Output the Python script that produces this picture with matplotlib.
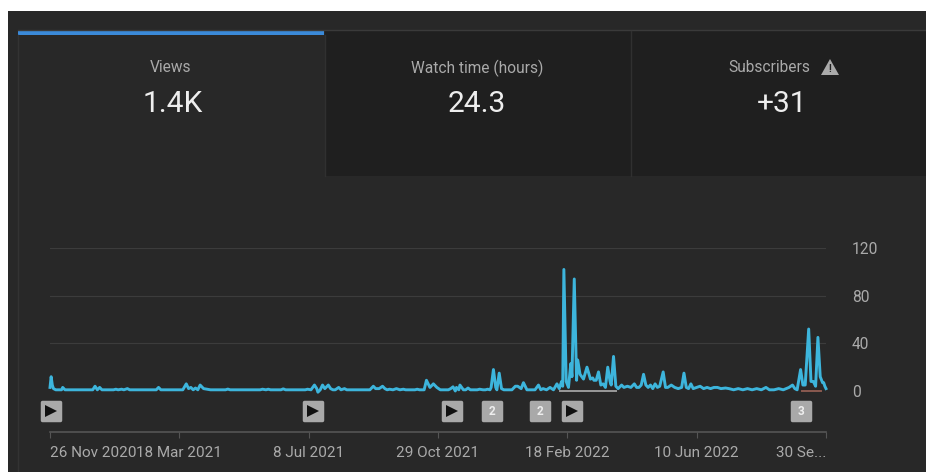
import matplotlib
matplotlib.use("Agg")
import matplotlib.pyplot as plt
from matplotlib.markers import MarkerStyle
from matplotlib.patches import Polygon, Rectangle

plt.rcParams["font.family"] = ["Roboto", "DejaVu Sans"]

# (days since 26 Nov 2020, views)
points = [
    (0, 3), (1, 12), (2, 5), (3, 2), (5, 1), (8, 1), (10, 1), (11, 3), (13, 1), (37, 1), (39, 4), (41, 1),
    (43, 3), (45, 1), (55, 1), (57, 1.5), (59, 1), (62, 1.5), (64, 1), (67, 2), (69, 1), (92, 1), (94, 3), (96, 1),
    (115, 1), (118, 6), (120, 2), (122, 3), (124, 1), (126, 2.5), (128, 1), (130, 5), (133, 2), (136, 1.5), (139, 1),
    (152, 1), (154, 1.6), (156, 1), (182, 1), (184, 1.5), (187, 1), (189, 1.5), (191, 1), (200, 1), (202, 1.8), (204, 1),
    (221, 1), (223, 1.5), (226, 1), (229, 5), (231, 2), (232, -1), (234, 1), (236, 5), (238, 2), (241, 5), (243, 2),
    (245, 1), (247, 1), (250, 3), (252, 1), (255, 2), (257, 1),
    (277, 1), (280, 4), (282, 2), (285, 2), (288, 4), (290, 2), (292, 1), (294, 1.5), (297, 1), (300, 2), (303, 1),
    (306, 1.5), (308, 1), (316, 1), (318, 1.5), (320, 1), (324, 1), (326, 9), (329, 3), (332, 6), (335, 3), (338, 1),
    (342, 1), (345, 1), (347, 2), (349, 3.5), (351, 0), (352, 3), (354, 1), (355, 5), (358, 1), (360, 1), (362, 2.5),
    (364, 1), (370, 1), (372, 1.5), (375, 1), (377, 1), (379, 1.5), (381, 1), (382, 3), (384, 18), (386, 3), (387, 1),
    (389, 15), (391, 2), (393, 1), (400, 1), (403, 4), (405, 4), (408, 2), (410, 7), (413, 1), (416, 1), (420, 1),
    (423, 5), (425, 1), (427, 2), (430, 1), (433, 3), (436, 1), (439, 6), (441, 2), (443, 8), (444, 4), (445, 102),
    (447, 8), (449, 3), (451, 23), (452, 12), (454, 94), (456, 9), (457, 26), (459, 14), (462, 10), (465, 20),
    (468, 10), (470, 11), (471, 9), (473, 9), (475, 16), (477, 5), (479, 6), (481, 3), (483, 20), (485, 8), (486, 5),
    (488, 29), (490, 4), (492, 2), (495, 5), (497, 3), (500, 4), (503, 3), (506, 6), (508, 3), (510, 3), (512, 5),
    (514, 14), (516, 5), (518, 3), (520, 5), (522, 2), (524, 6), (526, 3), (528, 4), (531, 16), (533, 3), (535, 3),
    (538, 5), (541, 3), (544, 2), (547, 3), (549, 15), (551, 3), (553, 2), (555, 6), (557, 2), (560, 3), (563, 4),
    (566, 2), (569, 3), (572, 2), (575, 3), (578, 3), (581, 2), (585, 2.5), (588, 2), (592, 1), (596, 2), (600, 1),
    (604, 2), (608, 1), (612, 2), (616, 1), (620, 3), (623, 1), (627, 1), (631, 2), (635, 1), (640, 3), (643, 5),
    (645, 2), (647, 1), (650, 18), (652, 5), (654, 5), (657, 52), (659, 8), (661, 8), (663, 4), (665, 45), (667, 12),
    (669, 7), (670, 7), (671, 4), (672, 2),
]
days = [p[0] for p in points]
views = [p[1] for p in points]

# faint flat stretches lying under the blue line
grey_days = [442, 490]
red_days = [651, 668]

tick_days = [0, 112, 224, 336, 448, 560, 672]
tick_labels = ["26 Nov 2020", "18 Mar 2021", "8 Jul 2021", "29 Oct 2021", "18 Feb 2022", "10 Jun 2022", "30 Se..."]
y_ticks = [0, 40, 80, 120]

play_days = [1, 228, 348, 452]
count_days = [383, 424, 650]
count_labels = ["2", "2", "3"]

bg = "#282828"
tab_dark = "#1f1f1f"
txt = "#aaaaaa"

fig = plt.figure(figsize=(9.26, 4.72), dpi=100, facecolor="white")

# page layer in pixels
page = fig.add_axes([0, 0, 1, 1])
page.set_xlim(0, 926)
page.set_ylim(472, 0)
page.axis("off")
page.add_patch(Rectangle((8, 11), 918, 461, color=bg, lw=0))
page.add_patch(Rectangle((325, 31), 601, 145, color=tab_dark, lw=0))
page.plot([18, 926], [30, 30], color="#3a3a3a", lw=1)
page.plot([17.5, 17.5], [35, 472], color="#333333", lw=1)
page.plot([325, 325], [35, 176], color="#303030", lw=1)
page.plot([631, 631], [31, 176], color="#303030", lw=1)
page.add_patch(Rectangle((18, 30), 306, 5, color="#3b8ad9", lw=0))

page.text(171, 68, "Views", color=txt, fontsize=11.2, ha="center", va="center")
page.text(477, 68, "Watch time (hours)", color=txt, fontsize=11.2, ha="center", va="center")
page.text(769, 68, "Subscribers", color=txt, fontsize=11.2, ha="center", va="center")
page.text(173, 104, "1.4K", color="#eeeeee", fontsize=21.5, ha="center", va="center")
page.text(477, 104, "24.3", color="#eeeeee", fontsize=21.5, ha="center", va="center")
page.text(782, 104, "+31", color="#eeeeee", fontsize=21.5, ha="center", va="center")
page.add_patch(Polygon([[830, 59], [821, 75], [839, 75]], closed=True, color=txt, lw=0))
page.text(830, 69, "!", color=tab_dark, fontsize=7, ha="center", va="center", weight="bold")

# chart
ax = fig.add_axes([50 / 926, (472 - 391) / 472, 776 / 926, 143 / 472])
ax.patch.set_alpha(0)
ax.set_xlim(0, 672)
ax.set_ylim(0, 120)
for s in ["top", "left", "right"]:
    ax.spines[s].set_visible(False)
ax.spines["bottom"].set_position(("outward", 29.5))
ax.spines["bottom"].set_color("#555555")
ax.spines["bottom"].set_linewidth(1.2)

ax.yaxis.tick_right()
ax.set_yticks(y_ticks)
ax.tick_params(axis="y", length=0, pad=18.5, labelsize=11.2, labelcolor=txt)
ax.grid(axis="y", color="#3c3c3c", lw=0.8)
ax.set_axisbelow(True)

ax.set_xticks(tick_days)
ax.set_xticklabels(tick_labels)
ax.tick_params(axis="x", length=4, width=0.8, color="#555555", pad=6, labelsize=11, labelcolor=txt)
labels = ax.get_xticklabels()
labels[0].set_ha("left")
labels[-1].set_ha("right")

ax.plot(grey_days, [0, 0], color="#9a9a9a", lw=1.4, clip_on=False, zorder=2)
ax.plot(red_days, [0, 0], color="#8a5a50", lw=1.4, clip_on=False, zorder=2)
ax.plot(days, views, color="#3db5dc", lw=2.1, clip_on=False, solid_joinstyle="round", zorder=3)

# video markers under the line
box = MarkerStyle("s", joinstyle="round")
all_days = play_days + count_days
ax.plot(all_days, [-17] * len(all_days), ls="", marker=box, ms=12.5, mew=2.5, color="#a9a9a9", clip_on=False)
ax.plot(play_days, [-17] * len(play_days), ls="", marker=">", ms=8, mew=0, color="#111111", clip_on=False)
for d, s in zip(count_days, count_labels):
    ax.text(d, -17, s, color="#eeeeee", fontsize=8.5, ha="center", va="center", weight="bold")

fig.savefig("out.png", dpi=100)
